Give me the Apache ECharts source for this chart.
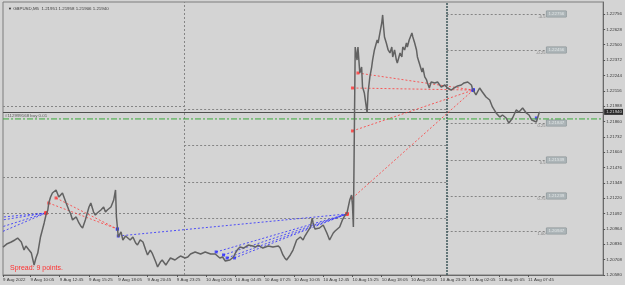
<!DOCTYPE html>
<html>
<head>
<meta charset="utf-8">
<script src="https://cdn.jsdelivr.net/npm/echarts@6/dist/echarts.min.js"></script>
<style>
	html, body { margin: 0; padding: 0; background: #d4d4d4; }
	#chart { width: 625px; height: 285px; }
</style>
</head>
<body>
<div id="chart"></div>
<script>
	// GBPUSD M5 close prices, bar index counted from the first bar of 9 Aug
	var closeBars = [2,6,11,15,18,22,25,27,29,33,36,38,40,43,47,49,51,52,54,56,60,63,65,67,71,74,76,78,82,85,87,89,92,96,98,101,103,105,109,112,114,116,120,123,125,126,128,131,133,136,138,141,144,147,149,152,155,158,160,163,165,169,171,174,176,180,182,185,187,190,193,196,198,201,204,207,209,212,214,218,220,223,225,229,231,234,236,239,242,245,247,250,254,256,258,261,265,267,270,272,275,278,281,283,286,289,292,294,297,299,303,305,308,310,312,316,319,321,323,327,330,332,334,338,340,341,343,345,348,352,354,356,359,363,365,367,370,373,376,378,381,383,384,385,387,389,390,392,394,395,397,400,401,403,405,406,408,411,412,414,416,417,418,419,421,423,425,427,428,430,432,433,436,438,439,441,443,444,446,449,450,452,454,455,457,460,461,463,465,466,468,470,474,477,481,485,488,492,495,499,503,506,510,514,515,517,519,523,525,526,530,534,537,541,545,548,552,555,559,563,566,570,574,577,580,585,588,589];
	var closePrices = [1.20813,1.20838,1.20855,1.20872,1.20888,1.20855,1.20788,1.20822,1.20830,1.20763,1.20663,1.20722,1.20763,1.20897,1.21014,1.21080,1.21122,1.21180,1.21230,1.21264,1.21289,1.21230,1.21247,1.21264,1.21180,1.21122,1.21089,1.21039,1.21064,1.21014,1.20989,1.20972,1.21039,1.21147,1.21180,1.21105,1.21080,1.21097,1.21122,1.21147,1.21105,1.21122,1.21147,1.21205,1.21289,1.21064,1.20897,1.20939,1.20872,1.20905,1.20914,1.20872,1.20897,1.20847,1.20830,1.20872,1.20855,1.20788,1.20747,1.20788,1.20763,1.20688,1.20647,1.20688,1.20705,1.20663,1.20688,1.20722,1.20730,1.20705,1.20722,1.20738,1.20747,1.20722,1.20730,1.20755,1.20763,1.20772,1.20772,1.20755,1.20763,1.20772,1.20763,1.20755,1.20747,1.20755,1.20747,1.20722,1.20730,1.20697,1.20688,1.20705,1.20730,1.20763,1.20788,1.20813,1.20805,1.20813,1.20830,1.20830,1.20822,1.20813,1.20830,1.20822,1.20805,1.20813,1.20822,1.20830,1.20813,1.20813,1.20822,1.20805,1.20747,1.20722,1.20705,1.20747,1.20788,1.20830,1.20872,1.20897,1.20872,1.20905,1.20930,1.20980,1.21055,1.21014,1.20964,1.20955,1.20972,1.20997,1.20964,1.20930,1.20872,1.20930,1.20947,1.20955,1.20980,1.21039,1.21080,1.21097,1.21205,1.21247,1.21164,1.20980,1.22481,1.22372,1.22481,1.22264,1.22314,1.22147,1.22097,1.21931,1.22097,1.22231,1.22314,1.22372,1.22456,1.22539,1.22514,1.22598,1.22681,1.22748,1.22648,1.22564,1.22514,1.22456,1.22431,1.22481,1.22398,1.22456,1.22372,1.22347,1.22431,1.22398,1.22481,1.22456,1.22514,1.22481,1.22539,1.22598,1.22564,1.22514,1.22456,1.22398,1.22347,1.22272,1.22306,1.22231,1.22206,1.22181,1.22139,1.22189,1.22181,1.22189,1.22147,1.22164,1.22139,1.22122,1.22139,1.22156,1.22164,1.22181,1.22189,1.22164,1.22139,1.22106,1.22081,1.22139,1.22147,1.22106,1.22064,1.22039,1.21981,1.21931,1.21897,1.21914,1.21889,1.21847,1.21889,1.21956,1.21939,1.21972,1.21931,1.21914,1.21872,1.21856,1.21931,1.21940];

	var xLabels = ['9 Aug 2022','9 Aug 10:05','9 Aug 12:45','9 Aug 15:25','9 Aug 18:05','9 Aug 20:45','9 Aug 23:25','10 Aug 02:05','10 Aug 04:45','10 Aug 07:25','10 Aug 10:05','10 Aug 12:45','10 Aug 15:25','10 Aug 18:05','10 Aug 20:45','10 Aug 23:25','11 Aug 02:05','11 Aug 05:05','11 Aug 07:45'];
	var xLabelBars = [2,32,64,96,128,160,192,224,256,288,320,352,384,416,448,480,512,544,576];
	var yTicks = [1.20580,1.20708,1.20836,1.20964,1.21092,1.21220,1.21348,1.21476,1.21604,1.21732,1.21860,1.21988,1.22116,1.22244,1.22372,1.22500,1.22628,1.22756];

	var titleText = 'GBPUSD,M5  1.21951 1.21958 1.21906 1.21940';
	var bidPrice = 1.21940;
	var orderPrice = 1.21881;
	var orderText = '#112999168 buy 0.01';
	var spreadText = 'Spread: 9 points.';
	var daySeparators = [200, 487];

	var day1Levels = [1.21989, 1.21397, 1.21097];
	var day2Levels = [1.21964, 1.21664, 1.21355, 1.21055];
	var fibPrices = [1.22756, 1.22456, 1.21847, 1.21539, 1.21239, 1.20947];
	var fibNames = ['-0.5', '-0.25', '0.25', '0.5', '0.75', '1.00'];

	// closed trades: [openBar, openPrice, closeBar, closePrice]
	var buyTrades = [
		[-10, 1.21055, 49, 1.21097],
		[-10, 1.21025, 49, 1.21097],
		[-10, 1.20955, 49, 1.21097],
		[-10, 1.20905, 49, 1.21097],
		[128, 1.20905, 378, 1.21089],
		[235, 1.20772, 378, 1.21089],
		[243, 1.20747, 378, 1.21089],
		[247, 1.20722, 378, 1.21089],
		[255, 1.20722, 378, 1.21089]
	];
	var sellTrades = [
		[52, 1.21180, 127, 1.20963],
		[60, 1.21222, 127, 1.20963],
		[384, 1.21222, 516, 1.22122],
		[384, 1.21781, 516, 1.22122],
		[384, 1.22139, 516, 1.22122],
		[390, 1.22264, 516, 1.22122]
	];
	var openOrders = [[585, 1.21889]];

	var X_MIN = 2, X_MAX = 658, Y_MIN = 1.20580, Y_MAX = 1.22856;
	var FONT = 'Liberation Sans';
	var TXT = '#3a3a3a';
	var BLUE = '#2a2aff';
	var RED = '#ff3a3a';

	function levelSegments() {
		var out = [];
		day1Levels.forEach(function(p) { out.push({coords: [[X_MIN, p], [daySeparators[0], p]]}); });
		day2Levels.forEach(function(p) { out.push({coords: [[daySeparators[0], p], [daySeparators[1], p]]}); });
		fibPrices.forEach(function(p) { out.push({coords: [[daySeparators[1], p], [596, p]]}); });
		return out;
	}
	function tradeLines(list) {
		return list.map(function(t) { return {coords: [[t[0], t[1]], [t[2], t[3]]]}; });
	}
	function hLine(p) { return [{coords: [[X_MIN, p], [X_MAX, p]]}]; }
	function vLine(b) { return {coords: [[b, Y_MIN], [b, Y_MAX]]}; }

	var priceData = closeBars.map(function(b, i) { return [b, closePrices[i]]; });
	var blueMarks = buyTrades.map(function(t) { return [t[0], t[1]]; })
		.concat(sellTrades.map(function(t) { return [t[2], t[3]]; }))
		.concat(openOrders);
	var redMarks = sellTrades.map(function(t) { return [t[0], t[1]]; })
		.concat(buyTrades.map(function(t) { return [t[2], t[3]]; }));

	var chart = echarts.init(document.getElementById('chart'));
	chart.setOption({
		animation: false,
		backgroundColor: '#d4d4d4',
		textStyle: { fontFamily: FONT },
		title: [{
			text: '{t|\u25BC} ' + titleText,
			left: 3, top: 2,
			textStyle: { fontSize: 4.4, fontWeight: 'normal', color: TXT, fontFamily: FONT,
				rich: { t: { fontSize: 4, color: '#222' } } }
		}, {
			text: spreadText,
			left: 5, top: 260,
			textStyle: { fontSize: 7, fontWeight: 'normal', color: '#ff3030', fontFamily: FONT }
		}],
		grid: {
			left: 2, right: 21, top: 2, bottom: 10,
			containLabel: false,
			show: true, borderColor: '#7c7c7c', borderWidth: 1, backgroundColor: 'transparent'
		},
		xAxis: {
			type: 'value', min: X_MIN, max: X_MAX,
			splitLine: { show: false },
			axisLine: { lineStyle: { color: '#6a6a6a' } },
			axisTick: { show: true, length: 2, customValues: xLabelBars, lineStyle: { color: '#555' } },
			axisLabel: {
				customValues: xLabelBars, align: 'left', margin: 3,
				fontSize: 4.4, color: TXT, fontFamily: FONT,
				formatter: function(v) { return xLabels[xLabelBars.indexOf(v)]; }
			}
		},
		yAxis: {
			type: 'value', position: 'right', min: Y_MIN, max: Y_MAX,
			splitLine: { show: false },
			axisLine: { show: true, lineStyle: { color: '#6a6a6a' } },
			axisTick: { show: true, length: 2, customValues: yTicks, lineStyle: { color: '#555' } },
			axisLabel: {
				customValues: yTicks, margin: 3, fontSize: 4.4, color: TXT, fontFamily: FONT,
				formatter: function(v) { return v.toFixed(5); }
			}
		},
		series: [{
			name: 'levels', type: 'lines', coordinateSystem: 'cartesian2d', silent: true,
			data: levelSegments(),
			lineStyle: { color: '#858585', width: 1, type: [2, 2], opacity: 1 }
		}, {
			name: 'separator', type: 'lines', coordinateSystem: 'cartesian2d', silent: true,
			data: [vLine(daySeparators[0])],
			lineStyle: { color: '#858585', width: 1, type: [2, 2], opacity: 1 }
		}, {
			name: 'separator2', type: 'lines', coordinateSystem: 'cartesian2d', silent: true,
			data: [vLine(daySeparators[1])],
			lineStyle: { color: '#3d5659', width: 1.5, type: [2, 1], opacity: 1 }
		}, {
			name: 'order', type: 'line', showSymbol: false, silent: true,
			data: [[X_MIN, orderPrice], [X_MAX, orderPrice]],
			itemStyle: { color: '#3aaa3a' },
			lineStyle: { color: '#3aaa3a', width: 1, type: [6, 2, 2, 2] }
		}, {
			name: 'bid', type: 'lines', coordinateSystem: 'cartesian2d', silent: true,
			data: hLine(bidPrice),
			lineStyle: { color: '#4e4e4e', width: 1, type: 'solid', opacity: 1 }
		}, {
			name: 'buys', type: 'lines', coordinateSystem: 'cartesian2d', silent: true,
			data: tradeLines(buyTrades),
			lineStyle: { color: BLUE, width: 1, type: [2, 2], opacity: 0.8 }
		}, {
			name: 'sells', type: 'lines', coordinateSystem: 'cartesian2d', silent: true,
			data: tradeLines(sellTrades),
			lineStyle: { color: RED, width: 1, type: [2, 2], opacity: 0.8 }
		}, {
			name: 'close', type: 'line', data: priceData, showSymbol: false, silent: true,
			lineStyle: { color: '#626262', width: 1.5 }
		}, {
			name: 'blueMarks', type: 'scatter', data: blueMarks, symbol: 'rect', symbolSize: 3,
			itemStyle: { color: BLUE }, silent: true
		}, {
			name: 'redMarks', type: 'scatter', data: redMarks, symbol: 'rect', symbolSize: 3,
			itemStyle: { color: RED }, silent: true
		}, {
			name: 'bidTag', type: 'scatter', symbolSize: 0, silent: true, clip: false,
			data: [[X_MAX, bidPrice]],
			label: { show: true, position: 'right', distance: 1, formatter: bidPrice.toFixed(5),
				backgroundColor: '#000', color: '#fff', fontSize: 4.4, padding: [1, 1, 1, 2], fontFamily: FONT }
		}, {
			name: 'orderTag', type: 'scatter', symbolSize: 0, silent: true,
			data: [[X_MIN, orderPrice]],
			label: { show: true, position: 'right', distance: 2, offset: [0, -3], formatter: orderText,
				color: TXT, fontSize: 4.4, fontFamily: FONT }
		}, {
			name: 'fibValues', type: 'scatter', symbolSize: 0, silent: true,
			data: fibPrices.map(function(p) { return [596, p]; }),
			label: {
				show: true, position: 'right', distance: 0,
				formatter: function(p) { return p.value[1].toFixed(5); },
				backgroundColor: '#a3adb0', borderColor: '#7d888b', borderWidth: 0.5,
				color: '#eef2f2', fontSize: 4.4, padding: [1, 2, 1, 2], fontFamily: FONT
			}
		}, {
			name: 'fibNames', type: 'scatter', symbolSize: 0, silent: true,
			data: fibPrices.map(function(p) { return [596, p]; }),
			label: {
				show: true, position: 'left', distance: 1, offset: [0, 2.5],
				formatter: function(p) { return fibNames[p.dataIndex]; },
				color: '#666', fontSize: 4, fontFamily: FONT
			}
		}]
	});
</script>
</body>
</html>
